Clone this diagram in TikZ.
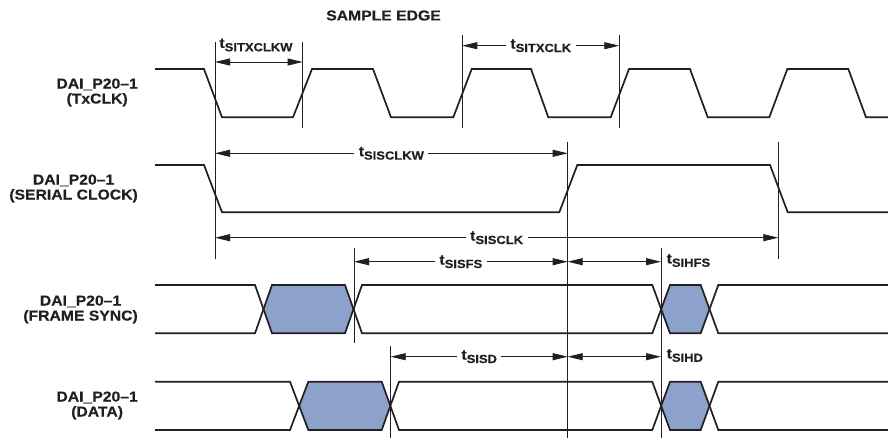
\documentclass[tikz,border=0pt]{standalone}
\usepackage{fontspec}
\setmainfont{Liberation Sans}[FakeStretch=1.1, FakeBold=0.4]
\usetikzlibrary{arrows.meta,calc}
\definecolor{sig}{RGB}{35,31,32}
\definecolor{hexfill}{RGB}{140,162,202}
\newcommand{\tlab}[1]{t{\fontsize{11.8}{12}\selectfont\raisebox{-3.4pt}{#1}}}
\begin{document}
\begin{tikzpicture}[x=1pt,y=-1pt,
  signal/.style={line width=1.7pt, draw=sig, line join=miter},
  hexa/.style={fill=hexfill, draw=none},
  refline/.style={line width=0.85pt, draw=sig},
  dimline/.style={line width=0.85pt, draw=sig, {Triangle[length=15pt,width=7pt]}-{Triangle[length=15pt,width=7pt]}},
  txt/.style={font=\bfseries\fontsize{14.3}{15}\selectfont, text=sig, inner sep=0pt},
  siglab/.style={txt, align=center, anchor=east},
  cut/.style={txt, fill=white, inner xsep=4.5pt, inner ysep=1pt},
  side/.style={txt, anchor=west}
]
\useasboundingbox (0,0) rectangle (888,438);

% ---------- signal names ----------
\node[txt] (se) at (383.5,15.5) {SAMPLE EDGE};
\node[siglab] (n1) at (138,92.5) {DAI\_P20–1\\(TxCLK)};
\node[siglab] (n2) at (138,188.5) {DAI\_P20–1\\(SERIAL CLOCK)};
\node[siglab] (n3) at (138,309.5) {DAI\_P20–1\\(FRAME SYNC)};
\node[siglab] (n4) at (138,405.5) {DAI\_P20–1\\(DATA)};

% ---------- hex fills ----------
\fill[hexa] (263.5,309.2) -- (272,285) -- (345,285) -- (353.5,309.2) -- (345,333.3) -- (272,333.3) -- cycle;
\fill[hexa] (661.2,309.2) -- (670,285) -- (700.7,285) -- (709.5,309.2) -- (700.7,333.3) -- (670,333.3) -- cycle;
\fill[hexa] (299.2,405.9) -- (308.3,381.7) -- (381.7,381.7) -- (390.4,405.9) -- (381.7,430) -- (308.3,430) -- cycle;
\fill[hexa] (661.2,405.9) -- (670,381.7) -- (700.7,381.7) -- (709.5,405.9) -- (700.7,430) -- (670,430) -- cycle;

% ---------- waveforms ----------
\draw[signal] (155,69) -- (204,69) -- (222,117.3) -- (293,117.3) -- (312,69) -- (373,69) -- (391,117.3)
  -- (453.3,117.3) -- (471.7,69) -- (531,69) -- (548.3,117.3) -- (610.7,117.3) -- (629,69) -- (690,69)
  -- (707.7,117.3) -- (769.3,117.3) -- (787.3,69) -- (848.3,69) -- (866,117.3) -- (888,117.3);
\draw[signal] (155,165) -- (204,165) -- (222,212.3) -- (559.3,212.3) -- (577.3,165) -- (770,165)
  -- (787.7,212.3) -- (888,212.3);
% frame sync
\draw[signal] (155,285) -- (255,285) -- (272,333.3) -- (345,333.3) -- (362,285) -- (652.3,285)
  -- (670,333.3) -- (700.7,333.3) -- (718.3,285) -- (888,285);
\draw[signal] (155,333.3) -- (255,333.3) -- (272,285) -- (345,285) -- (362,333.3) -- (652.3,333.3)
  -- (670,285) -- (700.7,285) -- (718.3,333.3) -- (888,333.3);
% data
\draw[signal] (155,381.7) -- (290,381.7) -- (308.3,430) -- (381.7,430) -- (399,381.7) -- (652.3,381.7)
  -- (670,430) -- (700.7,430) -- (718.3,381.7) -- (888,381.7);
\draw[signal] (155,430) -- (290,430) -- (308.3,381.7) -- (381.7,381.7) -- (399,430) -- (652.3,430)
  -- (670,381.7) -- (700.7,381.7) -- (718.3,430) -- (888,430);

% ---------- reference lines ----------
\coordinate (r1t) at (215,42);    \coordinate (r1b) at (215,259);
\coordinate (r2t) at (302.7,42);  \coordinate (r2b) at (302.7,128);
\coordinate (r3t) at (462.3,35);  \coordinate (r3b) at (462.3,128);
\coordinate (r4t) at (619.3,35);  \coordinate (r4b) at (619.3,128);
\coordinate (r5t) at (567.7,141.7); \coordinate (r5b) at (567.7,438);
\coordinate (r6t) at (778.3,141.7); \coordinate (r6b) at (778.3,259);
\coordinate (r7t) at (354,248.3); \coordinate (r7b) at (354,343.3);
\coordinate (r8t) at (661,248.3); \coordinate (r8b) at (661,438);
\coordinate (r9t) at (390.7,346); \coordinate (r9b) at (390.7,438);
\foreach \i in {1,...,9} {\draw[refline] (r\i t) -- (r\i b);}

% ---------- dimensions ----------
\coordinate (a1) at (215,62);     \coordinate (b1) at (302.7,62);
\coordinate (a2) at (462.3,45.7); \coordinate (b2) at (619.3,45.7);
\coordinate (a3) at (215,153.3);  \coordinate (b3) at (567.7,153.3);
\coordinate (a4) at (215,237.7);  \coordinate (b4) at (778.3,237.7);
\coordinate (a5) at (354,261.7);  \coordinate (b5) at (567.7,261.7);
\coordinate (a6) at (567.7,261.7);\coordinate (b6) at (661,261.7);
\coordinate (a7) at (390.7,356.7);\coordinate (b7) at (567.7,356.7);
\coordinate (a8) at (567.7,356.7);\coordinate (b8) at (661,356.7);
\foreach \i in {1,...,8} {\draw[dimline] (a\i) -- (b\i);}

\node[txt] (t1) at (256,45) {\tlab{SITXCLKW}};
\node[cut] (t2) at ($(a2)!0.5!(b2)$) {\tlab{SITXCLK}};
\node[cut] (t3) at ($(a3)!0.5!(b3)$) {\tlab{SISCLKW}};
\node[cut] (t4) at ($(a4)!0.5!(b4)$) {\tlab{SISCLK}};
\node[cut] (t5) at ($(a5)!0.5!(b5)$) {\tlab{SISFS}};
\node[side] (t6) at (666.5,260.5) {\tlab{SIHFS}};
\node[cut] (t7) at ($(a7)!0.5!(b7)$) {\tlab{SISD}};
\node[side] (t8) at (666.5,355.5) {\tlab{SIHD}};
\end{tikzpicture}
\end{document}
